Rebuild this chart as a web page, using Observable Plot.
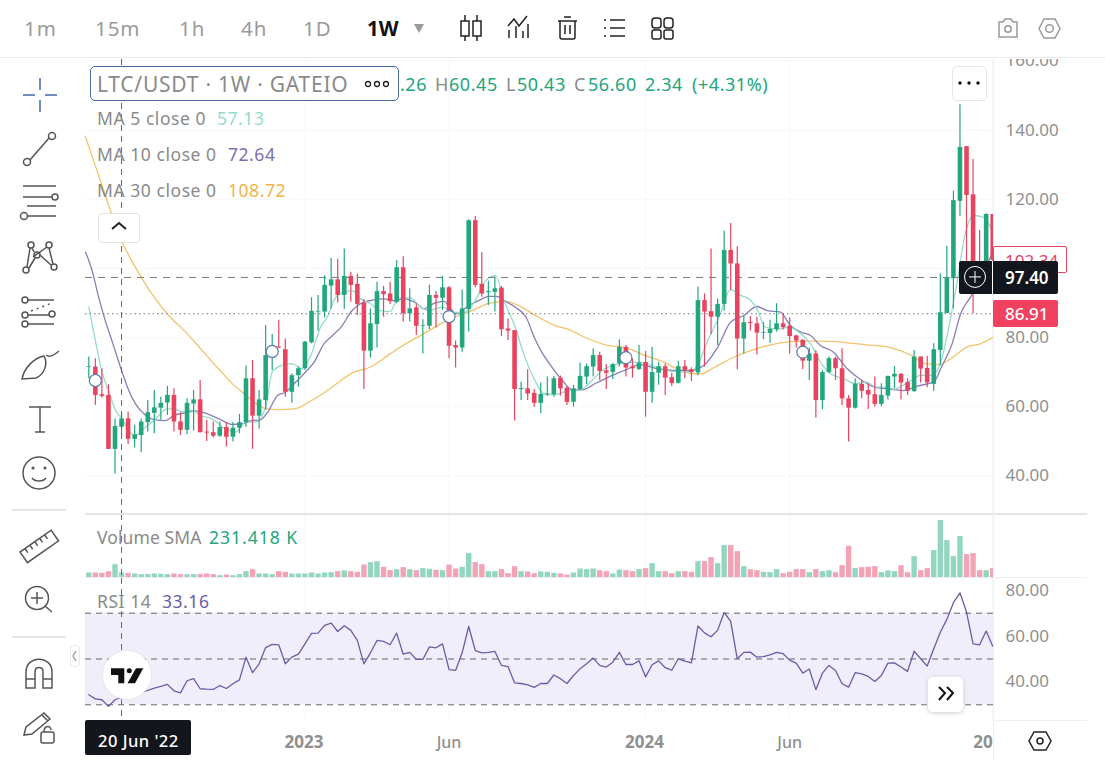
<!DOCTYPE html>
<html><head><meta charset="utf-8">
<script src="https://cdn.jsdelivr.net/npm/d3@7"></script>
<script src="https://cdn.jsdelivr.net/npm/@observablehq/plot@0.6"></script>
<style>
html,body{margin:0;background:#fff}
#stage{position:relative;width:1105px;height:784px;overflow:hidden;font-family:"Noto Sans",sans-serif;background:#fff}
#stage>svg{position:absolute;left:0}
.t{position:absolute;white-space:nowrap;transform:translateY(-50%);line-height:1}
.b{position:absolute;box-sizing:border-box}
</style></head><body><div id="stage"></div>
<script>
const opens=[71.4,71.5,63.5,63.3,47.7,54.1,56.5,50.6,51.7,55.4,58.1,59.6,61.1,63.3,55.6,53.2,60.8,62,52.7,52.5,51.5,54,51.2,53.8,55.4,68.1,57.3,61.8,75.5,77.3,76.5,64.2,69,71,78.5,87.4,87.4,94.9,96.7,92.2,97.7,95.4,90,76.1,83.8,93.3,92.6,90.2,100.2,86.9,88.6,83.3,83.3,92.2,91.4,94.4,77.7,77,88.1,113.8,95.4,93,93.1,94.3,82.5,82,65,65.2,63.9,61,63.5,63.5,68.3,65.4,61.3,65,68.6,71.5,74.8,70.4,69.9,72.4,77.2,71.5,70.8,72.8,64.2,69.7,71.6,68.4,66.8,71.6,70.7,69.8,90.7,87.5,85.9,89.6,105.2,101.3,79.6,84.4,84,81.3,81.2,82.3,84,83.3,80.5,79.2,73.2,75.3,61.8,69.9,73.9,71,62.3,59.6,66.5,64.7,63.5,60.7,63.1,68.6,69.4,67,64.4,74.4,71.1,66.5,76.3,87,97,119.4,135.2,121.3,100.5,100,115.6];
const closes=[71.6,63.3,63,47.7,54.3,56.5,50.6,51.9,55.6,58.3,59.7,61,63.3,55.6,53.2,61,62,52.5,52.4,51.5,54,51.2,53.8,55.4,68.1,57.3,62,74.8,76,77,64.2,69,71,78.7,87.6,87.6,95.1,96.7,92.2,97.7,95.1,89.6,76.1,84,93.3,92.4,90.4,100.2,86.9,88.3,83.3,83.5,92.2,91.4,94.4,77.5,77,88.3,113.8,95.1,92.6,93.3,94.1,82.3,81.9,65,65.3,63.7,61,63.6,63.7,68.1,65.2,61.3,65.2,68.8,71.6,74.8,70.2,69.7,72.2,77.2,71.2,71,72.6,64.2,69.9,71.6,68.3,66.7,71.6,70.5,69.9,90.7,87.4,85.9,89.6,105.2,101.3,79.6,84.3,84.1,81.3,81.5,82.4,84,82.9,80.3,79,73.2,75.3,61.8,69.9,73.9,71,62.3,59.6,66.5,64.5,63.4,60.7,63.3,68.8,69.4,66.9,64.5,74.4,70.9,66.9,76.5,87.2,97.2,119.6,135,121.1,100,98.5,115.6,102.34];
const highs=[74.4,73.9,71,66.4,56.5,58,58.5,54.6,56.5,61.8,64.7,62.8,65.9,65.2,58.2,62.3,64.7,67.6,56.1,55.6,55.6,55.5,55.5,57.8,71.8,73.4,64.7,83.5,80.9,85,79.6,69.5,71.5,78.9,91.5,92.2,97.9,102.9,102.6,105.6,98.9,98.4,91,88.3,96,94.8,96,102.3,103.4,94.1,89.8,85.2,95.1,93.3,97.7,94.8,79,93.8,114.1,115,104.5,96.3,97.5,94.8,85.4,82,67.1,70.7,65,66.9,68.6,68.8,68.9,65.7,66.2,72.7,72.4,76.8,75.8,72.2,72.6,79.4,77.7,73.9,77.7,76,77.2,72.9,72.4,69.7,73.2,73.4,71.3,94.6,92.6,105.6,91.2,110.8,113,106.3,86.1,86.1,85.9,84.3,85,89.8,86.9,85.7,80.7,79.5,77,76.3,70.5,74.4,74.4,76.8,63.3,68.1,67.6,66.7,68.6,66.7,68.8,71.7,69.6,68.1,76.3,74.4,74.6,78.2,98.4,106.4,122.3,147.3,135.2,131.5,111,115.8,115.6];
const lows=[68.1,60.4,62.5,47.7,40.6,51.3,49.1,48.1,46.7,52.7,52.2,56.1,57.5,52.7,51.7,51.9,53,52.5,50,51,51.2,48.4,49.8,52.2,54.1,47.7,53.5,59,70.5,76.9,62.8,61,65.7,70.5,78.2,81.9,85.7,88.3,90,88.1,90.2,86.4,65,74.1,77,85.9,89.5,89.8,84.5,84.5,80.6,75.3,82.3,82.8,87.8,73.9,71.2,75.8,81.6,94.4,91.7,89.3,87.4,80.3,79.2,55.9,61.8,61.8,59.9,58,63,62.8,63.1,60.4,59.9,64.7,66.4,68.6,67.6,65,67.9,71.5,68.6,68.3,70.5,57,61,66.2,63.3,65.9,66.6,68.1,67.3,69,71.5,80.9,77.7,87.6,93.6,70.7,75.3,81.9,75,79.4,78.4,81.6,82.2,75.3,77,70.8,67.6,56.8,59.2,69.6,67.6,60.4,49.8,59.4,62.3,59.2,59.9,60,62,65.2,62,63.3,64.2,66.9,65.5,64.5,71.9,86.9,88.3,115.1,102,86.91,95,98,101];
const volumesK=[129,129,120,163,344,129,120,103,86,86,103,95,86,103,86,86,86,95,103,86,60,77,60,86,163,215,103,103,86,163,146,103,103,103,129,103,129,138,163,181,163,146,335,396,421,275,189,215,267,215,189,241,224,198,189,335,232,275,628,396,344,163,163,215,112,292,163,155,112,155,146,120,103,77,129,232,215,232,189,163,103,206,189,163,215,241,370,163,163,112,163,163,146,421,421,525,370,834,834,679,292,215,189,146,138,215,112,146,215,215,138,215,163,189,138,318,817,241,267,275,292,138,181,163,318,138,550,189,241,705,1479,963,550,1066,602,628,189,189,241];
const rsi=[34.4,32.6,32.2,29.3,32.2,33.3,34.8,34.1,35.5,36.3,37.3,38,38.9,36.1,35.2,40.5,41.4,37,36.8,36.7,38.4,37.1,39.2,40.9,50.8,44,47.9,55,56.4,56.2,47.9,50.8,52.1,56.6,61.2,61.3,64.7,65.7,62,64.5,62.5,58.1,47.9,52.7,58.1,57.7,56.2,61.3,52.1,52.9,49.8,49.8,55.3,54.9,56.6,45.4,45,52.7,64.2,53.7,52.7,52.9,53.3,47.2,46.7,39.6,39.3,38.7,37.6,39.3,39.3,43,41.4,39.3,42.8,45.7,47.9,50.4,47.2,46.5,48.6,52.9,47.6,47.6,49.2,42.2,47.5,49.2,46.2,45.1,50.1,49.1,48.3,64.4,61.4,59.7,62.5,70.3,66.4,50.1,52.9,53,50.8,51,51.8,52.9,52.3,49.5,48.2,43.8,45.6,36.6,43.8,47.2,45,39.2,37.7,44,43.5,42.4,40.2,42.8,48.2,48.3,46.5,44.6,53.4,50.1,46.9,54.5,61.7,67.3,74.6,78.9,70.5,56.6,56.2,62.2,55.6];
const ma5Weeks=[0,0.8,2.1,3.1,4.1,5.1,6.1,7.1,8.2,10,12,13,14.3,15.8,17,18.8,20.9,22.4,24,25.5,27,28,29.5,31,32.6,34,35.4,36.4,37.4,38.7,40.2,41.5,43,44.5,46,47.3,49.1,50.4,51.9,54,55.7,57.5,59,60.6,62.1,63.4,65.1,66.4,68,69.5,71.2,73.3,74.8,76.8,78.4,80.9,84,86.3,88.8,91.4,92.9,94.4,96.2,98,99.5,100.8,102,103.3,105.1,106.9,108.7,110.2,111.7,113.2,115.3,117,118.8,120.1,121.4,122.9,125.5,127,128.8,130.3,131.3,132.6,133.8,135.1,136.6,137.9];
const ma5Values=[88.8,81.1,69.5,64.2,58.9,56.5,53.2,51.7,53.4,56.1,59.4,59.4,58.5,59,57.5,56.5,53.6,52.7,55.6,55.6,59.9,70.1,72,72.5,71,75.3,83.1,85.9,90.7,93.1,93.6,91.2,89.8,87.8,87.5,91.5,91.5,89.3,87.8,88.8,87.3,87.4,90.7,96.5,97.9,90.7,83,75.3,68.1,63.7,63.5,64.7,64.7,67.6,70.5,72.4,72.9,71.7,70.3,70,71.9,78.7,85.9,93.9,92.2,91.2,88.3,83,82.5,83,81.1,78.2,72.9,69.6,68.1,66.7,67.2,65.7,65.7,65.1,67.6,69.1,69.1,74.4,83,96.5,110,115.3,114.8,111];
const ma10Weeks=[-0.5,0,0.5,1.5,2.5,3.6,5.1,6.1,7.1,8.7,10,11.7,13,14.8,16.3,17.8,19.9,21.9,23.4,25,26,27.5,28.8,30,31.3,32.8,34.4,35.9,37.2,38.7,40,41.5,43.5,45,46.6,48.1,50.1,51.1,52.7,54.2,55.5,56,58,59.5,61.1,62.3,63.6,65.1,66.9,68,69,70.7,72.3,73.8,75.3,77.4,79.9,82,84.2,86.8,89.3,91.9,93.9,96,98,100,102,103.6,105.6,107.1,108.7,110.2,111.7,113.7,115.8,117.3,119.9,121.9,124.4,126.5,129,130.3,131.8,133.1,134.6,136.1,138];
const ma10Values=[104.7,102.3,99.4,91.7,85,78.7,70,64.7,60.9,57.5,56.3,56,57.5,58.3,58.8,58.2,56.5,54.9,55.1,56.1,56.1,59,63.3,64.2,66.6,69.5,72.9,78.2,80.6,83.5,87.4,89.8,90.9,91.2,90.7,91.2,89.8,88.3,89.9,90.5,87.8,86.9,89.3,90.7,91.9,91.9,90.5,88.8,85.4,80.1,76.3,71.5,67.6,64.9,64.9,66.8,69.1,70.7,72.2,71,70.5,70.5,72,77.2,84.5,86.4,89,87.8,87.4,83.5,81.6,80.6,77.7,75.8,71,68.6,65.7,65.2,64.7,66,67.2,72,78.2,86.9,91.7,97,104.7];
const ma30Weeks=[-0.5,1.5,3.3,5.1,7.1,9.9,12.2,14.8,17.3,19.8,21.9,23.4,27,29,31.6,33.6,36.1,38.2,40.2,43,46,48.1,51.1,54.2,56,58.5,61.1,63.6,65.6,68.2,71.2,73.3,76.3,79.4,80.9,82.4,85,87.8,89.8,91.9,93.4,95.4,98,100,102.6,105.6,108.2,111.2,114.8,118.8,121.9,125.5,127.7,129.8,131.6,134.1,136.1,138.1];
const ma30Values=[138,126.9,116.8,107.6,100.4,91.9,86.4,81.6,76.3,71,66.7,64.3,59.5,59.2,59.5,61.4,64.3,67.2,69.8,71.5,75.3,77.9,81.1,84.5,86.1,87.8,89.9,90.5,89.3,86.4,83.5,82.3,79.6,77.7,77.4,76.8,74.8,72.9,71,69.7,69.5,71.3,73.9,75.5,77.2,78.5,78.9,79,78.7,77.9,77.3,74.9,72.5,72.2,73.9,77.3,78.2,80.1];
const markerWeeks=[1,28,55,82,109];
const markerPrices=[67.6,76,86.1,74.2,75.8];
const priceTicks=[40,60,80,100,120,140,160];
const rsiTicks=[40,60,80];
const rsiLevels=[70,50,30];
const monthTicks=["2023-06-05","2024-06-03"], monthLabels=["Jun","Jun"];
const yearTicks=["2023-01-02","2024-01-01"], yearLabels=["2023","2024"];
const clippedTick="2025-01-06", clippedLabel="20";
const crosshairDate="2022-06-20", crosshairPrice=97.40, lowPrice=86.91, lastPrice=102.34;

const FONT='"Noto Sans",sans-serif';
const UP="#21a67d",DOWN="#e8435f",UPV="#93d6bf",DOWNV="#f3a3b6",GREY="#8f8f8f",GRID="#f7f7f7";
const W0=Date.UTC(2022,4,16),WK=604800000;
const wk=i=>new Date(W0+i*WK);
const weeks=opens.map((_,i)=>i);
const xOpt={type:"utc",domain:[wk(-0.504),wk(138.12)]};
const D=s=>new Date(s+"T00:00:00Z");
const allTicks=[...yearTicks,...monthTicks,clippedTick].map(D);
const common={width:1105,marginLeft:85,marginRight:112,marginTop:0,style:{fontFamily:FONT,background:"transparent",overflow:"hidden"}};
const line=(ws,vs,stroke)=>Plot.line(ws.map((w,i)=>({d:wk(w),v:vs[i]})),{x:"d",y:"v",stroke,strokeWidth:1.3,curve:"monotone-x"});
const crossRule=Plot.ruleX([D(crosshairDate)],{stroke:"#666",strokeDasharray:"6 5",strokeWidth:1});

const main=Plot.plot({...common,height:455,marginBottom:0,x:{...xOpt,axis:null},y:{domain:[28.87,160.4],label:null},
 marks:[
  Plot.ruleY(priceTicks,{stroke:GRID}),
  Plot.ruleX(allTicks,{stroke:GRID}),
  Plot.axisY(priceTicks,{anchor:"right",tickSize:0,tickPadding:12,tickFormat:d3.format(".2f"),label:null,fill:GREY,fontSize:17}),
  line(ma30Weeks,ma30Values,"#f3c26b"),
  line(ma10Weeks,ma10Values,"#8a7db8"),
  line(ma5Weeks,ma5Values,"#94dccc"),
  Plot.ruleY([crosshairPrice],{stroke:"#777",strokeDasharray:"7 6"}),
  Plot.ruleY([lowPrice],{stroke:"#777",strokeDasharray:"1.5 3"}),
  Plot.ruleX(weeks,{x:i=>wk(i),y1:i=>lows[i],y2:i=>highs[i],stroke:i=>closes[i]>=opens[i]?UP:DOWN,strokeWidth:1.2,clip:true}),
  Plot.ruleX(weeks,{x:i=>wk(i),y1:i=>opens[i],y2:i=>closes[i],stroke:i=>closes[i]>=opens[i]?UP:DOWN,strokeWidth:4.6,clip:true}),
  crossRule,
  Plot.dot(markerWeeks,{x:i=>wk(i),y:(_,j)=>markerPrices[j],r:6,fill:"#fff",stroke:"#5b7bb0",strokeWidth:1.2})
 ]});
main.style.top="59px";

const vol=Plot.plot({...common,height:64,marginBottom:0,x:{...xOpt,axis:null},y:{domain:[0,1634],range:[63.5,0],axis:null},
 marks:[
  Plot.ruleX(allTicks,{stroke:GRID}),
  Plot.ruleX(weeks,{x:i=>wk(i),y1:0,y2:i=>volumesK[i],stroke:i=>closes[i]>=opens[i]?UPV:DOWNV,strokeWidth:5.4,clip:true}),
  crossRule
 ]});
vol.style.top="514px";

const rsiPlot=Plot.plot({...common,height:182,marginBottom:40,x:{...xOpt,axis:null},y:{domain:[23.14,85.15],label:null},
 marks:[
  Plot.ruleX(allTicks,{stroke:GRID}),
  Plot.rectY([0],{x1:xOpt.domain[0],x2:xOpt.domain[1],y1:rsiLevels[2],y2:rsiLevels[0],fill:"#f1eefb"}),
  Plot.ruleY(rsiLevels,{stroke:"#666",strokeDasharray:"6 5"}),
  Plot.axisY(rsiTicks,{anchor:"right",tickSize:0,tickPadding:12,tickFormat:d3.format(".2f"),label:null,fill:GREY,fontSize:17}),
  Plot.line(weeks,{x:i=>wk(i),y:i=>rsi[i],stroke:"#6a5ca6",strokeWidth:1.3}),
  crossRule,
  Plot.text(yearTicks,{x:D,text:(_,i)=>yearLabels[i],frameAnchor:"bottom",dy:27,dx:-1,fill:GREY,fontSize:17,fontWeight:700}),
  Plot.text(monthTicks,{x:D,text:(_,i)=>monthLabels[i],frameAnchor:"bottom",dy:27,fill:GREY,fontSize:16,fontWeight:500}),
  Plot.text([clippedTick],{x:D,text:()=>clippedLabel,frameAnchor:"bottom",dy:27,textAnchor:"end",fill:GREY,fontSize:17,fontWeight:700})
 ]});
rsiPlot.style.top="578px";

const stage=document.getElementById("stage");
stage.append(main,vol,rsiPlot);
const div=(x,y,w,h,css="")=>{const e=document.createElement("div");e.className="b";e.style.cssText=`left:${x}px;top:${y}px;width:${w}px;height:${h}px;${css}`;stage.append(e);return e};
const t=(s,x,y,size,color,css="")=>{const e=document.createElement("div");e.className="t";e.textContent=s;e.style.cssText=`left:${x}px;top:${y}px;font-size:${size}px;color:${color};${css}`;stage.append(e);return e};

// pane frames
div(85,513,1002,2,"background:#e4e4e4");
div(85,577,1002,1,"background:#ededed");
div(993,60,1,700,"background:#efefef");
div(993,720,94,1,"background:#efefef");

// top bar
div(0,0,1105,58,"background:#fff;border-bottom:1px solid #ececec");
const G="#9a9a9a";
[["1m",24],["15m",95],["1h",179],["4h",241],["1D",303]].forEach(([s,x])=>t(s,x,28,20.5,G,"letter-spacing:.9px"));
t("1W",367,28,20.5,"#111","font-weight:700");

// price tags, placed through the chart's y scale
const yP=v=>59+main.scale("y").apply(v);
div(993,yP(lastPrice)-14,74,27,"background:#fff;border:1px solid #e8435f;border-radius:2px");
t(lastPrice.toFixed(2),1005,yP(lastPrice),17,"#e8435f");
div(993,yP(lowPrice)-13,65,27,"background:#f0425f;border-radius:2px");
t(lowPrice.toFixed(2),1005,yP(lowPrice),17,"#fff","font-weight:500");
div(959,yP(crosshairPrice)-16,99,33,"background:#14161d;border-radius:2px");
div(992,yP(crosshairPrice)-16,1,33,"background:#fff");
t(crosshairPrice.toFixed(2),1005,yP(crosshairPrice),17,"#fff","font-weight:600");

// legend
const LS="letter-spacing:.55px";
div(90,66,309,35,"background:#fff;border:1px solid #47699f;border-radius:5px");
t("LTC/USDT · 1W · GATEIO",97,84,21,"#8a8a8a","letter-spacing:.75px");
const OK="#21a67d";
t(".26",400,84,18,OK,LS);
t("H",435,84,18,"#8a8a8a");t("60.45",449,84,18,OK,LS);
t("L",506,84,18,"#8a8a8a");t("50.43",517,84,18,OK,LS);
t("C",574,84,18,"#8a8a8a");t("56.60",588,84,18,OK,LS);
t("2.34",645,84,18,OK,LS);t("(+4.31%)",692,84,18,OK,LS);
t("MA 5 close 0",97,119,17.5,"#8a8a8a",LS);t("57.13",217,119,17.5,"#93dccb",LS);
t("MA 10 close 0",97,155,17.5,"#8a8a8a",LS);t("72.64",228,155,17.5,"#7c6fb0",LS);
t("MA 30 close 0",97,191,17.5,"#8a8a8a",LS);t("108.72",228,191,17.5,"#f4b24a",LS);
div(98,213,42,30,"background:#fff;border:1px solid #e2e2e2;border-radius:4px");
div(952,66,35,35,"background:#fff;border:1px solid #e6e6e6;border-radius:5px");
t("Volume SMA",97,538,17.5,"#8a8a8a","letter-spacing:.1px");t("231.418 K",209,538,17.5,OK,"letter-spacing:1px");
t("RSI 14",97,602,17.5,"#8a8a8a",LS);t("33.16",162,602,17.5,"#6a5ca6",LS);
div(85,720,106,35,"background:#14161d;border-radius:2px");
t("20 Jun '22",98,741,16.5,"#fff","font-weight:500;letter-spacing:.5px");
div(103,651,48,48,"background:#fff;border-radius:50%;box-shadow:0 0 3px #ddd");
div(928,677,35,35,"background:#fff;border-radius:5px;box-shadow:0 1px 5px #ccc");
div(70,645,10,22,"background:#fff;border:1px solid #e8e8e8;border-radius:4px");

// icons
const icons=`
<g fill="none" stroke="#555" stroke-width="1.5">
<path d="M23 95H35M45 95H57M40 78V90M40 100V112" stroke="#3d6ab0"/>
<circle cx="27" cy="162" r="3.5"/><circle cx="52" cy="136" r="3.5"/><path d="M30 160L49 138"/>
<path d="M23 186H56M23 197H52M27 206H56M28 216H56"/><circle cx="55" cy="197" r="3"/><circle cx="24" cy="216" r="3.5"/>
<circle cx="31" cy="245" r="3"/><circle cx="49" cy="245" r="3"/><circle cx="26" cy="270" r="3"/><circle cx="54" cy="267" r="3"/><circle cx="37" cy="255" r="3"/><path d="M30 248L27 267M33 257L47 247M40 255L51 265M49 248L53 264M29 268L35 258M34 252L32 248"/>
<circle cx="25" cy="300" r="3"/><circle cx="25" cy="315" r="3"/><circle cx="25" cy="324" r="3"/><circle cx="52" cy="314" r="3"/><path d="M28 300H54M28 315H49M28 324H54"/><path d="M31 311L52 303" stroke-dasharray="2 4"/>
<path d="M22 379C24 368 34 358 44 356C48 363 45 374 36 378L22 379ZM46 355C50 358 54 355 59 351"/>
<path d="M29 407H51M40 407V432M35 432H45"/>
<circle cx="39" cy="473" r="16"/><path d="M32 478C35 482 43 482 46 478"/><circle cx="33" cy="468" r=".8"/><circle cx="45" cy="468" r=".8"/>
<path d="M12 510H66" stroke="#ddd"/>
<g transform="rotate(-35 39 546)"><rect x="20" y="540" width="38" height="13"/><path d="M26 540v5M32 540v5M38 540v5M44 540v5M50 540v5"/></g>
<circle cx="37" cy="598" r="11.5"/><path d="M45 606L52 612M31 598H43M37 592V604"/>
<path d="M12 637H66" stroke="#ddd"/>
<path d="M26 688V672C26 655 52 655 52 672V688H43V672C43 666 35 666 35 672V688ZM26 679H35M43 679H52"/>
<path d="M24 735L26 727L44 713L50 719L32 734ZM42 715L48 721"/><rect x="41" y="732" width="13" height="11" rx="2"/><path d="M44 732C44 725 51 725 51 730"/>
<path d="M461 21V36H469V21ZM465 15V21M465 36V41M473 21V36H481V21ZM477 15V21M477 36V41" stroke="#222"/>
<path d="M509 38V30M516 38V26M523 38V31M528 38V24M508 26L514 19L519 26L527 16" stroke="#222"/>
<path d="M558 21H577M560 21V37Q560 39 562 39H573Q575 39 575 37V21M564 17H571M565 25V34M570 25V34" stroke="#222"/>
<path d="M604 20H606M604 28H606M604 36H606M610 20H625M610 28H625M610 36H625" stroke="#222"/>
<rect x="652" y="18" width="9" height="10" rx="3" stroke="#222"/><rect x="664" y="18" width="9" height="10" rx="3" stroke="#222"/><rect x="652" y="30" width="9" height="9" rx="2" stroke="#222"/><rect x="664" y="30" width="9" height="9" rx="2" stroke="#222"/>
<path d="M999 22H1003L1005 19H1011L1013 22H1017V37H999Z" stroke="#999"/><circle cx="1008" cy="29" r="3.2" stroke="#999"/>
<path d="M1044 19H1055L1060 28.500L1055 38H1044L1039 28.500Z" stroke="#999"/><circle cx="1049.500" cy="28.500" r="3.800" stroke="#999"/>
<path d="M1034 732H1046L1051 741L1046 750H1034L1029 741Z" stroke="#222"/><circle cx="1040" cy="741" r="3" stroke="#222"/>
<path d="M76 651L73 656L76 661" stroke="#aaa"/>
<path d="M112 229L119 223L126 229" stroke="#222" stroke-width="2"/>
<path d="M939 687L945 693L939 700M947 687L953 693L947 700" stroke="#111" stroke-width="2"/>
<g stroke="#222" stroke-width="1.3"><circle cx="368" cy="84" r="2.500"/><circle cx="377" cy="84" r="2.500"/><circle cx="386" cy="84" r="2.500"/></g>
</g>
<path d="M414 24H424L419 33Z" fill="#9a9a9a"/>
<g fill="#111"><circle cx="960" cy="83" r="1.700"/><circle cx="969" cy="83" r="1.700"/><circle cx="978" cy="83" r="1.700"/>
<path d="M111 668.300H124.300V683.300H118.300V675H111Z"/><circle cx="129.300" cy="670.700" r="2.500"/><path d="M136 668.300H143.300L135 683.300H127.500Z"/></g>
<circle cx="975" cy="${yP(crosshairPrice)}" r="10.500" fill="none" stroke="#fff"/><path d="M969 ${yP(crosshairPrice)}H981M975 ${yP(crosshairPrice)-6}V${yP(crosshairPrice)+6}" stroke="#fff"/>`;
const ns="http://www.w3.org/2000/svg";
const iconSvg=document.createElementNS(ns,"svg");
iconSvg.setAttribute("width",1105);iconSvg.setAttribute("height",784);iconSvg.style.cssText="top:0;left:0;pointer-events:none";
iconSvg.innerHTML=icons;stage.append(iconSvg);
</script></body></html>
